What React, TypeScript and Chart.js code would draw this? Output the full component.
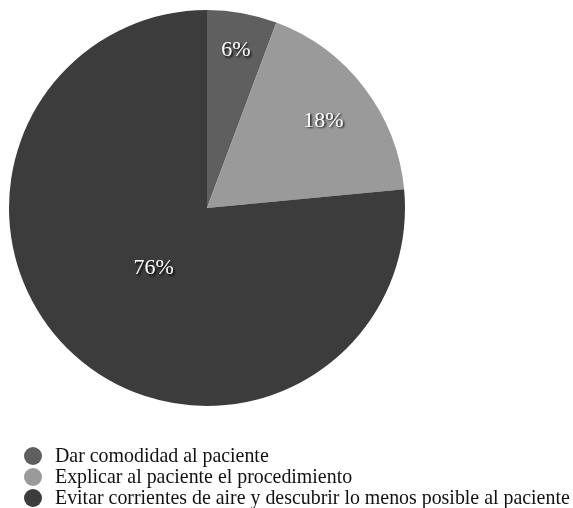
import React, { useEffect, useRef } from "react";
import { Chart, registerables } from "chart.js";

Chart.register(...registerables);

const categories = [
  "Dar comodidad al paciente",
  "Explicar al paciente el procedimiento",
  "Evitar corrientes de aire y descubrir lo menos posible al paciente",
];
const values = [5.7, 17.8, 76.5];
const valueLabels = ["6%", "18%", "76%"];
const colors = ["#5f5f5f", "#9a9a9a", "#3c3c3c"];
const labelRadiusFrac = [0.82, 0.74, 0.4];

const labelPlugin = {
  id: "sliceLabels",
  afterDatasetsDraw(chart: any) {
    const ctx = chart.ctx;
    const meta = chart.getDatasetMeta(0);
    ctx.save();
    ctx.font = '22px "Liberation Serif", "Times New Roman", serif';
    ctx.textAlign = "center";
    ctx.textBaseline = "middle";
    meta.data.forEach((arc: any, i: number) => {
      const p = arc.getProps(["x", "y", "startAngle", "endAngle", "outerRadius"], true);
      const mid = (p.startAngle + p.endAngle) / 2;
      const r = p.outerRadius * labelRadiusFrac[i];
      const x = p.x + Math.cos(mid) * r;
      const y = p.y + Math.sin(mid) * r + 2;
      ctx.shadowColor = "rgba(0,0,0,0.85)";
      ctx.shadowOffsetX = 1.5;
      ctx.shadowOffsetY = 1.5;
      ctx.shadowBlur = 2;
      ctx.fillStyle = "#ffffff";
      ctx.fillText(valueLabels[i], x, y);
    });
    ctx.restore();
  },
};

export default function App() {
  const ref = useRef<HTMLCanvasElement>(null);
  useEffect(() => {
    document.body.style.margin = "0";
    const chart = new Chart(ref.current!, {
      type: "pie",
      data: {
        labels: categories,
        datasets: [
          {
            data: values,
            backgroundColor: colors,
            borderWidth: 0,
          },
        ],
      },
      options: {
        animation: false,
        responsive: false,
        maintainAspectRatio: false,
        layout: { padding: { left: 9, top: 10, right: 168, bottom: 102 } },
        plugins: { legend: { display: false }, tooltip: { enabled: false } },
      },
      plugins: [labelPlugin],
    });
    return () => chart.destroy();
  }, []);

  return (
    <div style={{ position: "relative", width: 573, height: 508, background: "#fff", overflow: "hidden" }}>
      <canvas ref={ref} width={573} height={508} style={{ position: "absolute", left: 0, top: 0 }} />
      <div
        style={{
          position: "absolute",
          left: 24,
          top: 445,
          fontFamily: '"Liberation Serif", "Times New Roman", serif',
          fontSize: 19.9,
          lineHeight: "21px",
          color: "#111",
          whiteSpace: "nowrap",
        }}
      >
        {categories.map((c, i) => (
          <div key={i} style={{ display: "flex", alignItems: "center", height: 21 }}>
            <span
              style={{
                display: "inline-block",
                width: 18,
                height: 18,
                borderRadius: "50%",
                background: colors[i],
                marginRight: 13,
                flex: "none",
              }}
            />
            <span>{c}</span>
          </div>
        ))}
      </div>
    </div>
  );
}
